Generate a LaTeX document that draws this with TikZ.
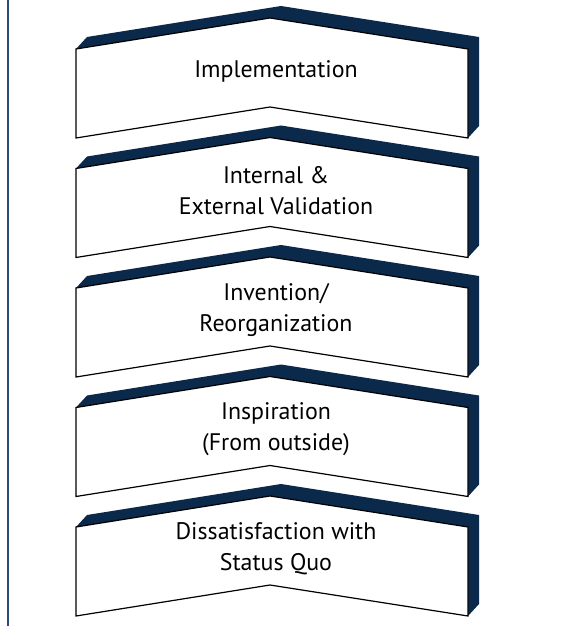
\documentclass[tikz,border=0pt]{standalone}
\usepackage{fontspec}
\setmainfont{PT Sans}
\definecolor{stagenavy}{RGB}{11,41,74}
\definecolor{rulecol}{RGB}{44,74,120}

\begin{document}
\begin{tikzpicture}[x=1bp,y=-1bp,
  stageface/.style={draw=black,fill=white,line width=1.2bp,line join=miter},
  stageshade/.style={fill=stagenavy},
  stagetext/.style={align=center,font=\fontsize{24}{31}\selectfont}]
\useasboundingbox (0,0) rectangle (569,626);

\draw[rulecol,line width=1.3bp] (8,0) -- (8,626);%side rule

% stages, bottom of the page is the first step
\foreach \t/\name/\txt in {49/impl/Implementation,
    168.5/valid/{Internal \&\\External Validation},
    288/invent/{Invention/\\Reorganization},
    407.5/inspire/{Inspiration\\(From outside)},
    527/dissat/{Dissatisfaction with\\Status Quo}}{
  \fill[stageshade] (76,\t) -- (87,\t-12) -- (281,\t-43) -- (479,\t-12)
    -- (479,\t+77) -- (468,\t+89) -- (468,\t) -- (270,\t-31) -- cycle;%depth
  \draw[stageface] (76,\t) -- (270,\t-31) -- (468,\t) -- (468,\t+89)
    -- (270,\t+58) -- (76,\t+89) -- cycle;%face
  \node[stagetext] (\name) at (276,\t+22) {\txt};
}
\end{tikzpicture}
\end{document}
